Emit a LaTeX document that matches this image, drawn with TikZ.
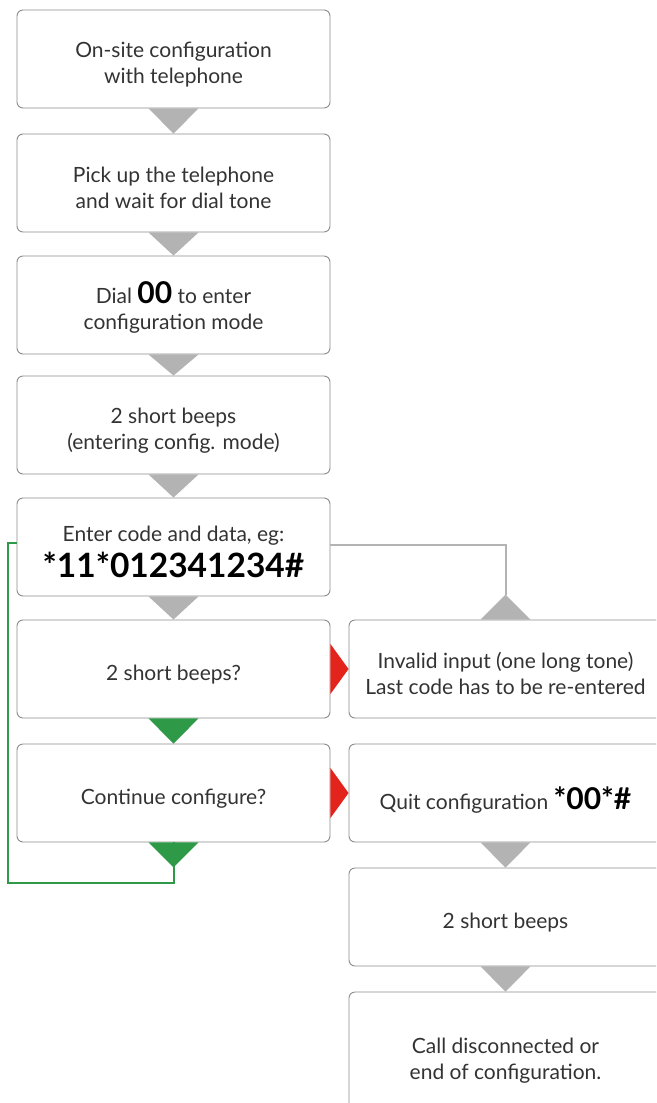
\documentclass[tikz,border=0pt]{standalone}
\usepackage{fontspec}
\setmainfont{Lato}
\definecolor{txt}{HTML}{333333}
\definecolor{edge}{HTML}{8C8C8C}
\definecolor{tri}{HTML}{B3B3B3}
\definecolor{grn}{HTML}{2E9A47}
\definecolor{rd}{HTML}{E3241D}
\newcommand{\dn}{\rule{0pt}{26pt}}
\begin{document}
\begin{tikzpicture}[x=1pt,y=-1pt,
  box/.style={draw=edge,line width=0.9pt,rounded corners=6pt,fill=white,
    minimum width=313pt,minimum height=98pt,align=center,text=txt,
    font=\fontsize{21}{26}\selectfont,inner sep=0pt}]
\useasboundingbox (0,0) rectangle (656,1103);
\begin{scope}
\clip (0,0) rectangle (656,1103);
% left column
\node[box] (b1) at (173.5,59) {\dn On-site configuration\\with telephone};
\node[box] (b2) at (173.5,183) {\dn Pick up the telephone\\and wait for dial tone};
\node[box] (b3) at (173.5,305) {\dn Dial {\fontsize{30}{26}\selectfont\bfseries\color{black}00} to enter\\configuration mode};
\node[box] (b4) at (173.5,425) {\dn 2 short beeps\\(entering config. mode)};
\node[box] (b5) at (173.5,547) {\rule{0pt}{25pt}Enter code and data, eg:\\[6pt]{\fontsize{33.5}{30}\selectfont\bfseries\color{black}*11*012341234\#}};
\node[box] (b6) at (173.5,669) {\dn 2 short beeps?};
\node[box] (b7) at (173.5,793) {\dn Continue configure?};
% right column
\node[box] (r1) at (505.5,669) {\dn Invalid input (one long tone)\\Last code has to be re-entered};
\node[box] (r2) at (505.5,793) {\rule{0pt}{36pt}Quit configuration {\fontsize{30}{26}\selectfont\bfseries\color{black}*00*\#}};
\node[box] (r3) at (505.5,917) {\dn 2 short beeps};
\node[box,minimum height=126pt] (r4) at (505.5,1055) {\dn Call disconnected or\\end of configuration.};
% gray down triangles
\foreach \a/\b in {b1/b2,b2/b3,b3/b4,b4/b5,b5/b6,r2/r3,r3/r4}{
  \fill[tri] ([xshift=-25pt]\a.south) -- ([xshift=25pt]\a.south) -- (\a.south |- \b.north) -- cycle;
}
% green triangles
\fill[grn] ([xshift=-25pt]b6.south) -- ([xshift=25pt]b6.south) -- (b7.north) -- cycle;
\coordinate (g1) at ([yshift=-25pt]b7.south);
\fill[grn] ([xshift=-25pt]b7.south) -- ([xshift=25pt]b7.south) -- (g1) -- cycle;
\coordinate (g2) at ([yshift=-16pt]g1);
\coordinate (g3) at ([yshift=4pt]b5.west);
\draw[grn,line width=2pt] (b7.south) -- (g2) -- (g2 -| 8,0) -- (8,0 |- g3) -- (g3);
% red triangles
\fill[rd] ([yshift=-25pt]b6.east) -- ([yshift=25pt]b6.east) -- (r1.west) -- cycle;
\fill[rd] ([yshift=-25pt]b7.east) -- ([yshift=25pt]b7.east) -- (r2.west) -- cycle;
% gray feedback
\coordinate (h1) at ([yshift=2pt]b5.east);
\coordinate (h2) at ([yshift=25pt]r1.north);
\draw[tri,line width=2pt] (h1) -- (h1 -| h2) -- (h2);
\fill[tri] ([xshift=-25pt]r1.north) -- ([xshift=25pt]r1.north) -- (h2) -- cycle;
\end{scope}
\end{tikzpicture}
\end{document}
